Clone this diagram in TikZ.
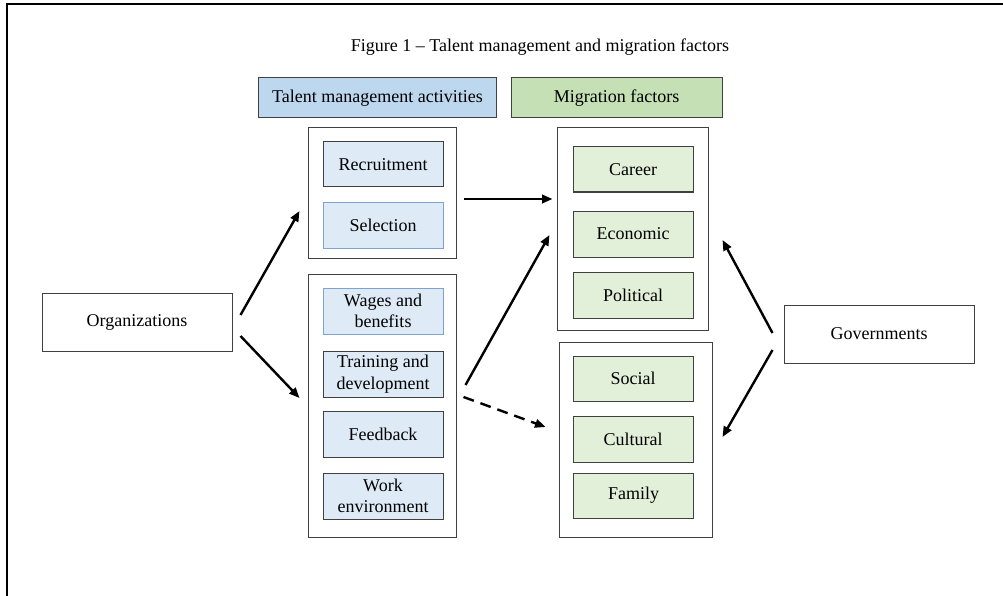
\documentclass[tikz,border=0pt]{standalone}
\usepackage{fontspec}
\setmainfont{Liberation Serif}
\usetikzlibrary{arrows.meta,calc}

\definecolor{hdrblue}{HTML}{BDD7EE}
\definecolor{hdrgreen}{HTML}{C5E0B4}
\definecolor{boxblue}{HTML}{DEEBF7}
\definecolor{boxgreen}{HTML}{E2F0D9}
\definecolor{edge}{HTML}{404040}
\definecolor{blueedge}{HTML}{7FA3CF}

\newcommand{\cellfont}{\rmfamily\fontsize{18}{21.5}\selectfont}

\tikzset{
  cellbase/.style={draw=edge, line width=1pt, inner sep=0pt, align=center,
    font=\cellfont},
  header/.style={cellbase, minimum height=40pt},
  group/.style={draw=edge, line width=1pt, fill=white, inner sep=0pt},
  actor/.style={cellbase, fill=white, minimum width=190pt, minimum height=58pt},
  tmbox/.style={cellbase, fill=boxblue, minimum width=120pt, minimum height=46pt},
  tmboxlight/.style={tmbox, draw=blueedge},
  mfbox/.style={cellbase, fill=boxgreen, minimum width=120pt, minimum height=46pt},
  arr/.style={line width=2.4pt, -{Triangle[length=10.5pt,width=8.5pt]}},
  dasharr/.style={arr, dash pattern=on 11pt off 7pt}
}

\begin{document}
\begin{tikzpicture}[x=1pt,y=-1pt]
  \useasboundingbox (0,0) rectangle (1003,596);

  % frame edges
  \draw[line width=1.6pt] (1003,4) -- (7,4) -- (7,596);

  % title
  \node[font=\cellfont] (title) at (540,47)
    {Figure 1 – Talent management and migration factors};

  % column headers
  \node[header, fill=hdrblue, minimum width=238pt] (hdrT) at (377.5,98)
    {Talent management activities};
  \node[header, fill=hdrgreen, minimum width=211pt] (hdrM) at (616.5,98)
    {Migration factors};

  % group frames
  \node[group, minimum width=148pt, minimum height=130pt] (grpA) at (382,193) {};
  \node[group, minimum width=148pt, minimum height=263pt] (grpB) at (382,405.5) {};
  \node[group, minimum width=151pt, minimum height=202pt] (grpC) at (632.5,229) {};
  \node[group, minimum width=153pt, minimum height=195pt] (grpD) at (635.5,439.5) {};

  % talent management activities
  \node[tmbox, minimum height=45pt] (rec) at (383,164.5) {Recruitment};
  \node[tmboxlight] (sel) at (383,225) {Selection};
  \node[tmboxlight] (wag) at (383,311) {Wages and\\benefits};
  \node[tmbox] (tra) at (383,374) {Training and\\development};
  \node[tmbox] (fee) at (383,434) {Feedback};
  \node[tmbox] (wor) at (383,496) {Work\\environment};

  % migration factors
  \node[mfbox, minimum height=45pt] (car) at (633,169.5) {Career};
  \node[mfbox] (eco) at (633,234) {Economic};
  \node[mfbox] (pol) at (633,295) {Political};
  \node[mfbox, minimum height=45pt] (soc) at (633,378.5) {Social};
  \node[mfbox] (cul) at (633,439) {Cultural};
  \node[mfbox, minimum height=45pt] (fam) at (633.5,495.5) {Family};

  % actors
  \node[actor] (org) at (137,322) {Organizations};
  \node[actor] (gov) at (879,334) {Governments};

  % connectors
  \draw[arr] ($(org.east)+(8,-7)$) -- ($(grpA.west)+(-8,18)$);
  \draw[arr] ($(org.east)+(8,14)$) -- ($(grpB.west)+(-8,-7.5)$);
  \draw[arr] ($(grpA.east)+(7,6)$) -- ($(grpC.west)+(-4,-30)$);
  \draw[arr] ($(grpB.east)+(9,-20.5)$) -- ($(grpC.west)+(-7,6)$);
  \draw[dasharr] ($(grpB.east)+(7,-8.5)$) -- ($(grpD.west)+(-13,-12.5)$);
  \draw[arr] ($(gov.west)+(-11,-1)$) -- ($(grpC.east)+(14,11)$);
  \draw[arr] ($(gov.west)+(-11,16)$) -- ($(grpD.east)+(10,-2.5)$);
\end{tikzpicture}
\end{document}
